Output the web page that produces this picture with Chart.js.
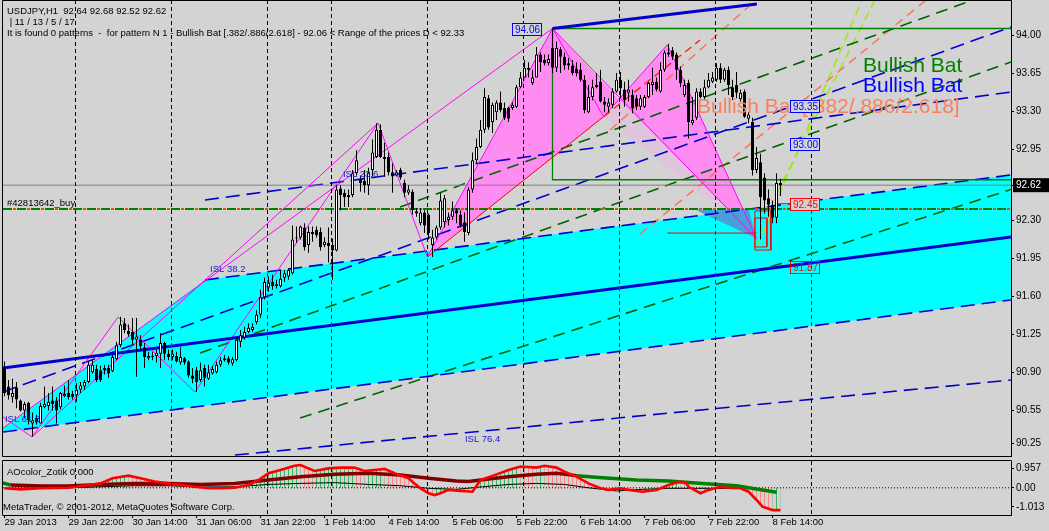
<!DOCTYPE html>
<html>
<head>
<meta charset="utf-8">
<title>USDJPY,H1</title>
<script src="https://cdn.jsdelivr.net/npm/chart.js@4.4.1/dist/chart.umd.min.js"></script>
<style>
html,body{margin:0;padding:0;width:1049px;height:531px;overflow:hidden;background:#d3d3d3;}
canvas{position:absolute;left:0;display:block;}
#main{top:0;}
#ind{top:458px;}
</style>
</head>
<body>
<canvas id="main" width="1049" height="457"></canvas>
<canvas id="ind" width="1049" height="73"></canvas>
<script>
// ---------------- DATA ----------------
const openP = [
90.94,90.77,90.67,90.76,90.64,90.55,90.62,90.43,90.48,90.43,
90.58,90.59,90.64,90.64,90.58,90.68,90.71,90.70,90.69,90.74,
90.77,90.81,90.90,90.93,90.92,90.94,90.94,90.91,91.02,91.15,
91.35,91.28,91.27,91.20,91.20,91.13,91.03,91.05,91.05,91.07,
91.17,91.07,91.04,91.05,90.99,91.03,91.00,90.87,90.92,90.83,
90.94,90.84,90.89,90.90,90.97,91.03,91.03,90.98,91.01,91.18,
91.22,91.27,91.29,91.36,91.43,91.59,91.68,91.73,91.69,91.69,
91.77,91.78,91.81,92.14,92.14,92.23,92.07,92.19,92.21,92.19,
92.07,92.09,92.07,92.02,92.59,92.55,92.53,92.53,92.73,92.67,
92.66,92.62,92.76,92.88,93.13,92.88,92.88,92.74,92.71,92.76,
92.64,92.55,92.56,92.38,92.27,92.37,92.35,92.07,92.14,92.23,
92.28,92.30,92.33,92.39,92.35,92.28,92.18,92.58,92.85,92.97,
93.13,93.42,93.20,93.29,93.38,93.33,93.33,93.33,93.34,93.52,
93.61,93.70,93.56,93.61,93.82,93.77,93.74,93.88,93.70,93.87,
93.80,93.74,93.72,93.69,93.68,93.59,93.29,93.43,93.54,93.57,
93.39,93.34,93.36,93.48,93.59,93.50,93.47,93.45,93.42,93.34,
93.34,93.43,93.54,93.57,93.48,93.68,93.82,93.86,93.82,93.68,
93.45,93.56,93.19,93.24,93.48,93.43,93.52,93.57,93.59,93.70,
93.59,93.68,93.52,93.54,93.41,93.48,93.23,93.20,92.76,92.83,
92.69,92.50,92.44,92.32,92.64];
const highP = [
91.00,90.83,90.84,90.81,90.65,90.63,90.63,90.53,90.51,90.62,
90.77,90.71,90.77,90.67,90.72,90.78,90.83,90.73,90.80,90.81,
90.83,91.00,91.01,90.97,90.96,90.97,90.97,91.06,91.18,91.41,
91.40,91.34,91.40,91.40,91.24,91.17,91.09,91.09,91.11,91.26,
91.18,91.11,91.11,91.09,91.13,91.04,91.01,90.94,90.95,90.99,
90.97,90.97,90.96,91.00,91.04,91.06,91.05,91.04,91.22,91.29,
91.32,91.35,91.35,91.47,91.66,91.77,91.78,91.80,91.75,91.84,
91.84,91.86,92.25,92.24,92.25,92.27,92.24,92.24,92.24,92.23,
92.14,92.23,92.13,92.62,92.62,92.58,92.58,92.76,92.94,92.71,
92.76,92.78,93.04,93.19,93.18,93.01,92.92,92.82,92.76,92.78,
92.67,92.62,92.58,92.41,92.41,92.39,92.36,92.21,92.25,92.55,
92.53,92.37,92.47,92.41,92.39,92.37,92.60,92.92,93.05,93.22,
93.51,93.45,93.38,93.40,93.48,93.38,93.34,93.38,93.54,93.66,
93.77,93.75,93.68,93.89,93.84,93.82,93.82,94.06,93.94,93.89,
93.84,93.79,93.77,93.75,93.74,93.63,93.54,93.59,93.65,93.68,
93.43,93.42,93.51,93.65,93.66,93.57,93.59,93.50,93.45,93.45,
93.45,93.57,93.70,93.61,93.75,93.86,93.92,93.89,93.84,93.71,
93.59,93.59,93.43,93.51,93.51,93.59,93.65,93.66,93.74,93.74,
93.70,93.71,93.59,93.66,93.50,93.50,93.29,93.24,92.97,92.91,
92.73,92.58,92.48,92.73,92.68];
const lowP = [
90.68,90.65,90.62,90.57,90.54,90.48,90.42,90.31,90.42,90.43,
90.57,90.55,90.55,90.43,90.56,90.67,90.65,90.65,90.63,90.71,
90.74,90.80,90.89,90.81,90.81,90.88,90.85,90.90,91.01,91.13,
91.26,91.23,91.15,90.86,91.11,90.94,91.01,91.01,90.99,90.94,
91.01,91.01,91.01,90.99,90.97,90.97,90.85,90.80,90.72,90.81,
90.77,90.83,90.88,90.89,90.95,91.00,90.97,90.96,91.00,91.13,
91.20,91.26,91.27,91.34,91.40,91.57,91.64,91.66,91.67,91.68,
91.73,91.75,91.80,92.09,92.12,92.02,92.00,92.10,92.14,92.02,
92.05,91.91,91.75,92.01,92.39,92.42,92.42,92.51,92.71,92.56,
92.55,92.53,92.70,92.87,92.87,92.70,92.71,92.55,92.70,92.67,
92.51,92.53,92.35,92.33,92.25,92.18,92.12,91.96,92.12,92.21,
92.23,92.25,92.30,92.27,92.23,92.10,92.16,92.55,92.82,92.96,
93.10,93.13,93.10,93.22,93.29,93.22,93.20,93.31,93.33,93.51,
93.61,93.61,93.54,93.61,93.66,93.72,93.72,93.65,93.66,93.65,
93.68,93.68,93.63,93.62,93.57,93.28,93.28,93.40,93.51,93.38,
93.29,93.29,93.33,93.47,93.42,93.34,93.39,93.28,93.31,93.31,
93.33,93.42,93.45,93.48,93.47,93.66,93.80,93.77,93.59,93.52,
93.43,93.05,93.17,93.22,93.42,93.40,93.51,93.56,93.57,93.56,
93.57,93.45,93.40,93.42,93.39,93.24,93.19,92.71,92.73,92.12,
92.36,92.33,92.27,92.27,92.52];
const closeP = [
90.71,90.69,90.71,90.65,90.55,90.61,90.46,90.46,90.44,90.59,
90.61,90.63,90.61,90.55,90.71,90.70,90.67,90.67,90.74,90.78,
90.81,90.97,90.97,90.83,90.83,90.92,90.89,91.04,91.15,91.34,
91.29,91.25,91.20,91.23,91.14,91.04,91.05,91.04,91.08,91.17,
91.07,91.04,91.07,91.00,91.04,90.99,90.87,90.84,90.81,90.92,
90.85,90.90,90.93,90.97,91.01,91.01,90.99,91.02,91.20,91.24,
91.27,91.31,91.32,91.43,91.59,91.73,91.72,91.69,91.71,91.76,
91.81,91.84,92.12,92.13,92.24,92.05,92.19,92.17,92.16,92.05,
92.10,92.06,92.02,92.58,92.53,92.51,92.51,92.73,92.85,92.64,
92.62,92.74,92.92,93.13,92.88,92.86,92.74,92.70,92.74,92.69,
92.55,92.58,92.39,92.36,92.37,92.25,92.18,92.14,92.23,92.48,
92.50,92.33,92.39,92.36,92.25,92.19,92.58,92.85,92.97,93.13,
93.43,93.15,93.36,93.38,93.31,93.24,93.23,93.36,93.52,93.61,
93.70,93.68,93.61,93.82,93.75,93.74,93.78,93.70,93.88,93.80,
93.72,93.72,93.65,93.65,93.59,93.31,93.43,93.52,93.52,93.39,
93.36,93.38,93.48,93.59,93.51,93.40,93.50,93.33,93.34,93.42,
93.43,93.56,93.57,93.50,93.68,93.84,93.84,93.80,93.68,93.56,
93.54,93.20,93.22,93.48,93.43,93.52,93.59,93.61,93.70,93.59,
93.68,93.54,93.43,93.47,93.47,93.25,93.27,92.76,92.87,92.51,
92.48,92.44,92.32,92.64,92.62];

// time axis (bar index of labels, day boundaries)
const tickBars = [0,16,32,48,64,80,96,112,128,144,160,176,192];
const tickLabels = ['29 Jan 2013','29 Jan 22:00','30 Jan 14:00','31 Jan 06:00','31 Jan 22:00','1 Feb 14:00','4 Feb 14:00','5 Feb 06:00','5 Feb 22:00','6 Feb 14:00','7 Feb 06:00','7 Feb 22:00','8 Feb 14:00'];
const dayStartBars = [18,42,66,82,106,130,154,178,202];
const priceTicks = [94.00,93.65,93.30,92.95,92.62,92.30,91.95,91.60,91.25,90.90,90.55,90.25];
const currentPrice = 92.62;
const orderPrice = 92.40;

// chart objects: [bar1, price1, bar2, price2]
const thickBlueLines = [[-0.375,90.94,251.6,92.144],[137,94.06,188.1,94.285]];
const blueDashLines = [[-0.375,90.719,251.6,94.074],[50.1,92.484,251.6,93.476],[57.6,90.14,251.6,90.829],[-0.375,90.351,251.6,91.565],[50.1,91.749,251.6,92.714]];
const greenDashLines = [[48.9,91.078,251.6,93.752],[73.9,90.48,251.6,92.58],[98.9,92.419,242.1,94.322]];
const orangeDashLines = [[151.4,93.127,187.9,94.322],[158.9,92.171,230.4,94.322]];
const limeDashLines = [[188.1,92.052,214.4,94.322],[192.9,92.53,217.6,94.322]];
// zigzag turning points; the last five are X, A, B, C, D of the pattern
const zigzagBars = [-0.375,6.9,28.4,47.6,93.4,105.7,137,149.8,165.7,188];
const zigzagPrices = [90.489,90.306,91.408,90.719,93.191,91.96,94.06,93.25,93.91,92.13];
const pointPBar = 153.6, pointPPrice = 93.407; // where B-C crosses A-D
const magentaLines = [[-0.375,90.388,137,94.06],[6.9,90.306,93.4,93.191],[137,94.06,188,92.13]];
const redSolidLines = [[105.7,91.96,149.8,93.25],[165.7,92.18,188,92.18],[193.1,92.45,196.4,92.45],[193.1,91.87,196.4,91.87]];
const redDashLines = [[149.8,93.25,173.9,93.954]];
const redRects = [[187.6,92.383,191.6,92.024],[187.6,92.318,190.6,92.052]];
const greenRect = [137,94.06,251.6,92.67];
const cyanTopBars = [-0.375,50.1,251.6], cyanTopPrices = [90.388,91.749,92.714];
const cyanBotBars = [-0.375,251.6], cyanBotPrices = [90.351,91.565];
const steelTriBars = [173,186,188], steelTriPrices = [92.39,92.40,92.13];
const boxBars = [126.9,196.4,196.4,196.4,196.4];
const boxPrices = [94.06,93.35,93.00,92.45,91.87];
const islBars = [51.4,84.6,115.1,0.1];
const islPrices = [91.822,92.695,90.26,90.443];
const islNames = ['ISL 38.2','ISL 23.6','ISL 76.4','ISL 61.8'];

// AO indicator
const redBars = [0,4,9,16,21,24,27,31,34,37.5,41,44,47.5,51,54,57.5,61,63.5,66,69,72.5,74,77.5,81,84,87.5,90,92.5,95,97.5,101,102.5,104,106,107.5,109,111,114,117,119,122.5,126,129,133,135,138,140,143,146,149,151,154,156,159.5,163,166,169,170.5,171,174,176,179,181,184,186,188,189.5,192,194];
const redVals = [-0.02,-0.06,-0.02,0.0,0.11,0.17,0.37,0.47,0.37,0.24,0.17,0.11,0.04,-0.02,-0.02,0.0,0.11,0.30,0.56,0.69,0.85,0.88,0.65,0.75,0.78,0.78,0.65,0.69,0.73,0.56,0.37,0.17,-0.02,-0.21,-0.28,-0.21,-0.08,-0.12,-0.15,0.30,0.49,0.69,0.82,0.78,0.85,0.78,0.62,0.43,0.17,-0.02,-0.08,-0.02,-0.08,-0.15,-0.08,0.11,0.24,0.17,0.04,-0.21,-0.08,0.04,0.0,-0.02,-0.15,-0.47,-0.73,-0.86,-0.86];
const maroonBars = [1.5,9,16,24,32.5,41,49,57.5,66,74,82.5,91,99,106,113,116,121,126,133,138,143];
const maroonVals = [0.11,0.07,0.07,0.13,0.17,0.17,0.13,0.17,0.30,0.43,0.52,0.56,0.49,0.37,0.26,0.24,0.34,0.43,0.52,0.56,0.47];
const greenHeadBars = [-1,1.5], greenHeadVals = [0.21,0.11];
const greenTailBars = [143,149.5,158,166,174.5,183,193];
const greenTailVals = [0.47,0.39,0.30,0.26,0.17,0.08,-0.17];
const blackBars = [0,16,24,32.5,41,49,57.5,66,74,82.5,91,99,106,113,119.5,126,133,140,146,153,159.5,166,173,180,183];
const blackVals = [-0.02,0.0,0.04,0.08,0.08,0.03,0.04,0.13,0.17,0.20,0.13,0.08,-0.02,-0.06,0.04,0.13,0.17,0.13,0.0,-0.12,-0.06,-0.02,-0.02,-0.02,-0.02];
const aoTickVals = [0.764,0,-0.741];
const aoTickLabels = ['0.957','0.00','-1.013'];

// ---------------- RENDER ----------------
const FONT = '"Liberation Sans", Arial, sans-serif';
Chart.defaults.font.family = FONT;
Chart.defaults.color = '#000';
const XMIN = -0.375, XMAX = 251.625;
const BG = '#d3d3d3';
const PINK = '#ff8cf0', WEDGE = '#dfc5dc';

const pts = (xs, ys) => xs.map((x, k) => ({x: x, y: ys[k]}));
function lineDS(data, color, width, dash, order, extra) {
  return Object.assign({type:'line', data: data, borderColor: color, borderWidth: width,
    borderDash: dash || [], pointRadius: 0, pointHoverRadius: 0, fill: false, tension: 0,
    order: order, clip: 0}, extra || {});
}
const seg = s => [{x:s[0], y:s[1]}, {x:s[2], y:s[3]}];
function fillPair(top, bottom, color, order) {
  return [lineDS(top, 'transparent', 0, [], order, {backgroundColor: color, fill: '+1'}),
          lineDS(bottom, 'transparent', 0, [], order)];
}

const barIdx = openP.map((_, i) => i);
const ds = [];
// candles
ds.push({type:'bar', data: barIdx.map(i => ({x:i, y:[lowP[i], highP[i]]})), backgroundColor:'#000',
  borderWidth:0, barThickness:1, grouped:false, inflateAmount:0, order:1});
ds.push({type:'bar', data: barIdx.map(i => ({x:i, y:[openP[i], closeP[i]]})),
  backgroundColor: barIdx.map(i => closeP[i] >= openP[i] ? '#ffffff' : '#000000'),
  borderColor:'#000', borderWidth:1, borderSkipped:false, barThickness:3, grouped:false,
  inflateAmount:0, minBarLength:1, order:0});
// thick blue channel lines
thickBlueLines.forEach(s => ds.push(lineDS(seg(s), '#0000cc', 3, [], 4)));
// dashed fans / channels
blueDashLines.forEach(s => ds.push(lineDS(seg(s), '#0000cc', 1.6, [14,7], 8)));
greenDashLines.forEach(s => ds.push(lineDS(seg(s), '#006400', 1.6, [12,7], 8)));
orangeDashLines.forEach(s => ds.push(lineDS(seg(s), '#ff7050', 1.4, [9,6], 8)));
limeDashLines.forEach(s => ds.push(lineDS(seg(s), '#9ee81e', 1.6, [9,5], 8)));
// magenta pattern lines
ds.push(lineDS(pts(zigzagBars, zigzagPrices), '#ff00ff', 1, [], 7));
magentaLines.forEach(s => ds.push(lineDS(seg(s), '#ff00ff', 1, [], 7)));
redSolidLines.forEach(s => ds.push(lineDS(seg(s), '#ff0000', 1, [], 7)));
redDashLines.forEach(s => ds.push(lineDS(seg(s), '#ff2000', 1.4, [8,5], 7)));
redRects.forEach(r => ds.push(lineDS([{x:r[0],y:r[1]},{x:r[2],y:r[1]},{x:r[2],y:r[3]},{x:r[0],y:r[3]},{x:r[0],y:r[1]}], '#ff0000', 1, [], 6)));
// green rectangle (open to the right)
ds.push(lineDS([{x:greenRect[2],y:greenRect[1]},{x:greenRect[0],y:greenRect[1]},{x:greenRect[0],y:greenRect[3]},{x:greenRect[2],y:greenRect[3]}], '#008000', 1.3, [], 7));
// current price line and order line
ds.push(lineDS([{x:XMIN,y:currentPrice},{x:XMAX,y:currentPrice}], '#808080', 1, [], 7));
ds.push(lineDS([{x:XMIN,y:orderPrice},{x:XMAX,y:orderPrice}], '#e85000', 2, [3,11], 7, {borderDashOffset:-10}));
ds.push(lineDS([{x:XMIN,y:orderPrice},{x:XMAX,y:orderPrice}], '#008000', 2, [9,5], 7));
// filled areas (pattern triangles, cyan channel)
const zp = k => ({x: zigzagBars[k], y: zigzagPrices[k]});
const X = 5, A = 6, B = 7, C = 8, D = 9;
const P = {x: pointPBar, y: pointPPrice};
ds.push(...fillPair(pts(steelTriBars, steelTriPrices), [{x:steelTriBars[0],y:steelTriPrices[0]},{x:steelTriBars[2],y:steelTriPrices[2]}], '#4a9fd8', 18));
ds.push(...fillPair([zp(X), zp(A), zp(B)], [zp(X), zp(B)], PINK, 20));
ds.push(...fillPair([zp(A), P], [zp(A), zp(B), P], PINK, 20));
ds.push(...fillPair([P, zp(C), zp(D)], [P, zp(D)], PINK, 20));
ds.push(...fillPair([zp(B), P, zp(D)], [zp(B), zp(D)], WEDGE, 20));
ds.push(...fillPair(pts(cyanTopBars, cyanTopPrices), pts(cyanBotBars, cyanBotPrices), '#00ffff', 30));

function cyanPath(ctx, x, y) {
  ctx.beginPath();
  cyanTopBars.forEach((b, k) => { const px = x.getPixelForValue(b), py = y.getPixelForValue(cyanTopPrices[k]); k ? ctx.lineTo(px, py) : ctx.moveTo(px, py); });
  for (let k = cyanBotBars.length - 1; k >= 0; k--) ctx.lineTo(x.getPixelForValue(cyanBotBars[k]), y.getPixelForValue(cyanBotPrices[k]));
  ctx.closePath();
}

const gridPlugin = {
  id: 'mtgrid',
  afterDatasetsDraw(chart) {
    const {ctx, chartArea: a, scales} = chart;
    const x = scales.x, y = scales.y;
    ctx.save();
    ctx.beginPath(); ctx.rect(a.left, a.top, a.right - a.left, a.bottom - a.top); ctx.clip();
    ctx.lineWidth = 1; ctx.setLineDash([4,3]);
    const drawLines = color => {
      ctx.strokeStyle = color; ctx.beginPath();
      dayStartBars.forEach(b => { const px = Math.round(x.getPixelForValue(b)) - 1.5; ctx.moveTo(px, a.top); ctx.lineTo(px, a.bottom); });
      ctx.stroke();
    };
    drawLines('#000');
    if (chart.canvas.id === 'main') { cyanPath(ctx, x, y); ctx.clip(); drawLines('#d00000'); }
    ctx.restore();
  }
};

const mainOverlay = {
  id: 'mainOverlay',
  afterDraw(chart) {
    const {ctx, chartArea: a, scales} = chart;
    const x = scales.x, y = scales.y;
    ctx.save();
    ctx.strokeStyle = '#000'; ctx.lineWidth = 1; ctx.setLineDash([]);
    ctx.beginPath();
    ctx.moveTo(a.right + 0.5, 0.5); ctx.lineTo(a.left - 0.5, 0.5); ctx.lineTo(a.left - 0.5, a.bottom + 0.5); ctx.lineTo(a.right + 0.5, a.bottom + 0.5);
    ctx.stroke();
    ctx.textBaseline = 'alphabetic'; ctx.textAlign = 'left';
    ctx.fillStyle = '#000'; ctx.font = '9.5px ' + FONT;
    ctx.fillText('USDJPY,H1  92.64 92.68 92.52 92.62', 7, 14);
    ctx.fillText(' | 11 / 13 / 5 / 17', 7, 25);
    ctx.fillText('It is found 0 patterns  -  for pattern N 1 - Bullish Bat [.382/.886/2.618] - 92.06 < Range of the prices D < 92.33', 7, 36);
    ctx.fillText('#42813642_buy', 7, 206);
    ctx.fillStyle = '#1a1ad0';
    islNames.forEach((t, k) => ctx.fillText(t, x.getPixelForValue(islBars[k]), y.getPixelForValue(islPrices[k])));
    ctx.font = '21px ' + FONT;
    ctx.fillStyle = '#fa7f62'; ctx.fillText('Bullish Bat [.382/.886/2.618]', 697, 113);
    ctx.fillStyle = '#008000'; ctx.fillText('Bullish Bat', 863, 72);
    ctx.fillStyle = '#0000ff'; ctx.fillText('Bullish Bat', 863, 92);
    ctx.font = '10px ' + FONT;
    boxPrices.forEach((p, k) => {
      const bx = Math.round(x.getPixelForValue(boxBars[k])), by = Math.round(y.getPixelForValue(p));
      const col = p > currentPrice ? '#0000ff' : '#ff0000';
      if (k < 4) { ctx.fillStyle = BG; ctx.fillRect(bx, by - 6, 30, 12); }
      ctx.strokeStyle = col; ctx.strokeRect(bx + 0.5, by - 5.5, 29, 12);
      ctx.fillStyle = col; ctx.fillText(p.toFixed(2), bx + 3, by + 4);
    });
    ctx.restore();
  }
};

new Chart(document.getElementById('main'), {
  type: 'bar',
  data: { datasets: ds },
  options: {
    responsive: false, animation: false, devicePixelRatio: 1, events: [],
    layout: { padding: { left: 3, top: 0, right: 0, bottom: 1 } },
    plugins: { legend: { display: false }, tooltip: { enabled: false } },
    scales: {
      x: { type: 'linear', display: false, min: XMIN, max: XMAX, offset: false },
      y: {
        type: 'linear', position: 'right', min: 90.131, max: 94.322,
        afterBuildTicks: s => { s.ticks = priceTicks.map(v => ({value: v})); },
        afterFit: s => { s.width = 38; s.paddingTop = 0; s.paddingBottom = 0; },
        ticks: {
          autoSkip: false, font: { size: 10 }, padding: 2,
          callback: v => Number(v).toFixed(2),
          color: c => (c.tick && c.tick.value === currentPrice) ? '#ffffff' : '#000000',
          showLabelBackdrop: true,
          backdropColor: c => (c.tick && c.tick.value === currentPrice) ? '#000000' : 'rgba(0,0,0,0)',
          backdropPadding: { left: 3, right: 8, top: 1, bottom: 1 }
        },
        grid: { drawOnChartArea: false, drawTicks: true, tickLength: 3, color: '#000' },
        border: { display: true, color: '#000' }
      }
    }
  },
  plugins: [gridPlugin, mainOverlay]
});

// ---------------- AO indicator ----------------
function makeStripe(col) {
  const c = document.createElement('canvas'); c.width = 4; c.height = 2;
  const g = c.getContext('2d'); g.fillStyle = col; g.fillRect(0, 0, 1, 2);
  return g.createPattern(c, 'repeat');
}
const upPat = makeStripe('#3cb464'), dnPat = makeStripe('#f48a8a');
const ids = [];
ids.push(lineDS([{x:XMIN,y:0},{x:XMAX,y:0}], '#000', 1, [1,2], 9));
ids.push(lineDS(pts(redBars, redVals), 'transparent', 0, [], 10, {
  fill: 'origin', backgroundColor: upPat,
  segment: { backgroundColor: c => (c.p1.y <= c.p0.y ? upPat : dnPat) }
}));
ids.push(lineDS(pts(blackBars, blackVals), '#000', 1, [], 5));
ids.push(lineDS(pts(maroonBars, maroonVals), '#800000', 3.5, [], 4));
ids.push(lineDS(pts(greenHeadBars, greenHeadVals), '#008000', 3.5, [], 4));
ids.push(lineDS(pts(greenTailBars, greenTailVals), '#008000', 3.5, [], 4));
ids.push(lineDS(pts(redBars, redVals), '#ff0000', 2.6, [], 1));

const indOverlay = {
  id: 'indOverlay',
  afterDraw(chart) {
    const {ctx, chartArea: a} = chart;
    ctx.save();
    ctx.strokeStyle = '#000'; ctx.lineWidth = 1;
    ctx.beginPath();
    ctx.moveTo(a.right + 0.5, a.top - 0.5); ctx.lineTo(a.left - 0.5, a.top - 0.5); ctx.lineTo(a.left - 0.5, a.bottom + 0.5);
    ctx.stroke();
    ctx.fillStyle = '#000'; ctx.font = '9.5px ' + FONT; ctx.textBaseline = 'alphabetic';
    ctx.fillText('AOcolor_Zotik 0.000', 7, 17);
    ctx.fillText('MetaTrader, \u00a9 2001-2012, MetaQuotes Software Corp.', 3, 52);
    ctx.restore();
  }
};

new Chart(document.getElementById('ind'), {
  type: 'line',
  data: { datasets: ids },
  options: {
    responsive: false, animation: false, devicePixelRatio: 1, events: [],
    layout: { padding: { left: 3, top: 3, right: 0, bottom: 0 } },
    plugins: { legend: { display: false }, tooltip: { enabled: false } },
    scales: {
      x: {
        type: 'linear', min: XMIN, max: XMAX, offset: false,
        afterBuildTicks: s => { s.ticks = tickBars.map(v => ({value: v})); },
        afterFit: s => { s.height = 16; s.paddingLeft = 0; s.paddingRight = 0; },
        ticks: { autoSkip: false, maxRotation: 0, align: 'start', padding: -1, font: { size: 9.5 },
          callback: v => tickLabels[tickBars.indexOf(v)] },
        grid: { drawOnChartArea: false, drawTicks: true, tickLength: 3, color: '#000' },
        border: { display: true, color: '#000' }
      },
      y: {
        type: 'linear', position: 'right', min: -1.05, max: 1.035,
        afterBuildTicks: s => { s.ticks = aoTickVals.map(v => ({value: v})); },
        afterFit: s => { s.width = 38; s.paddingTop = 0; s.paddingBottom = 0; },
        ticks: { autoSkip: false, font: { size: 10 }, padding: 2,
          callback: v => aoTickLabels[aoTickVals.indexOf(v)] },
        grid: { drawOnChartArea: false, drawTicks: true, tickLength: 3, color: '#000' },
        border: { display: true, color: '#000' }
      }
    }
  },
  plugins: [gridPlugin, indOverlay]
});
</script>
</body>
</html>
